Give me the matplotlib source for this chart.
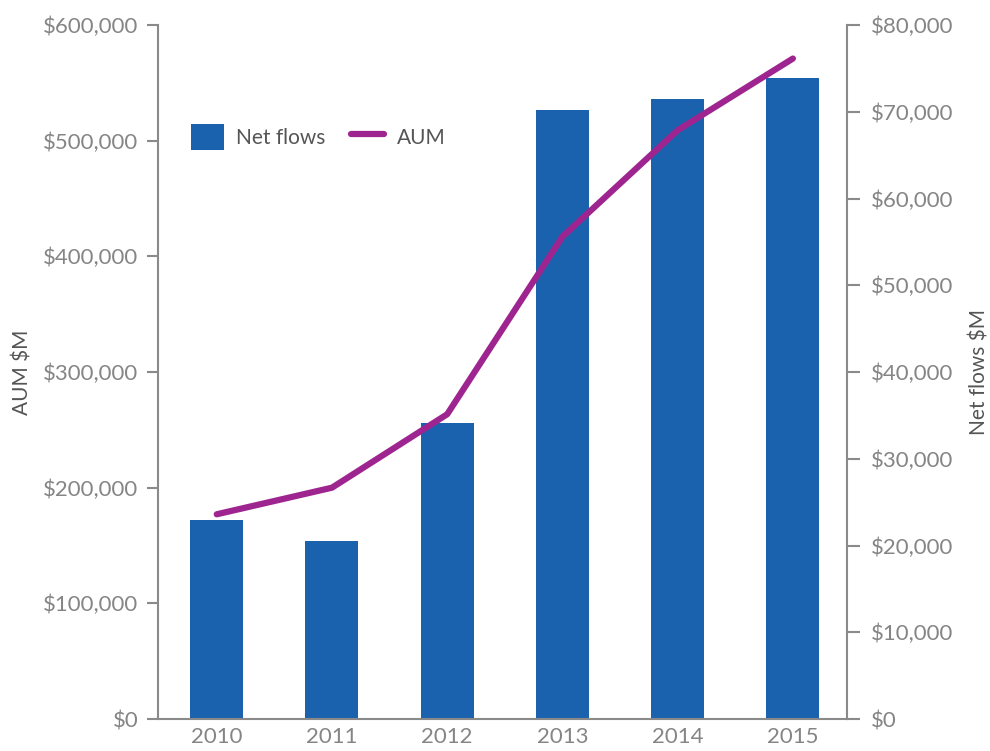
import matplotlib
matplotlib.use("Agg")
import matplotlib.pyplot as plt
from matplotlib.ticker import FuncFormatter
from matplotlib.patches import Patch
from matplotlib.lines import Line2D

# data ($M)
years = ["2010", "2011", "2012", "2013", "2014", "2015"]
net_flows = [22900, 20500, 34100, 70200, 71500, 73900]
aum = [177000, 200000, 263500, 417000, 509000, 571000]

bar_color = "#1b62ae"
line_color = "#9e2590"
spine_color = "#8a8a8a"
tick_color = "#858585"
label_color = "#555555"

plt.rcParams["font.family"] = ["Lato", "DejaVu Sans"]

fig = plt.figure(figsize=(9.9, 7.51), dpi=100)
ax = fig.add_axes([0.1596, 0.0426, 0.8556 - 0.1596, 0.9667 - 0.0426])
ax2 = ax.twinx()

x = list(range(len(years)))
ax2.bar(x, net_flows, width=0.46, color=bar_color, zorder=2)
ax.plot(x, aum, color=line_color, lw=4.5, solid_capstyle="round", zorder=3)

# line axis above the bars
ax.set_zorder(ax2.get_zorder() + 1)
ax.patch.set_visible(False)

ax.set_xlim(-0.51, 5.47)
ax.set_ylim(0, 600000)
ax2.set_ylim(0, 80000)
ax.set_yticks(range(0, 600001, 100000))
ax2.set_yticks(range(0, 80001, 10000))
ax.set_xticks(x)
ax.set_xticklabels(years)

money = FuncFormatter(lambda v, p: "${:,.0f}".format(v))
ax.yaxis.set_major_formatter(money)
ax2.yaxis.set_major_formatter(money)

for a in (ax, ax2):
    for s in a.spines.values():
        s.set_visible(False)
ax.spines["left"].set_visible(True)
ax.spines["bottom"].set_visible(True)
ax2.spines["right"].set_visible(True)
for s in (ax.spines["left"], ax.spines["bottom"], ax2.spines["right"]):
    s.set_color(spine_color)
    s.set_linewidth(1.5)

ax.tick_params(axis="y", direction="out", length=8, width=1.5, color=spine_color,
               labelsize=16, labelcolor=tick_color, pad=6)
ax2.tick_params(axis="y", direction="out", length=9, width=1.5, color=spine_color,
                labelsize=16, labelcolor=tick_color, pad=8)
ax.tick_params(axis="x", length=0, labelsize=16, labelcolor=tick_color, pad=6)

ax.set_ylabel("AUM $M", fontsize=15, color=label_color, labelpad=8)
ax2.set_ylabel("Net flows $M", fontsize=15, color=label_color, labelpad=12)

handles = [Patch(facecolor=bar_color, edgecolor="none"),
           Line2D([0], [0], color=line_color, lw=4.5, solid_capstyle="round")]
leg = ax.legend(handles, ["Net flows", "AUM"], loc="upper left", ncol=2,
                bbox_to_anchor=(0.02, 0.885), frameon=False, fontsize=15,
                handlelength=1.6, handleheight=1.6, handletextpad=0.6,
                columnspacing=1.2)
for t in leg.get_texts():
    t.set_color(label_color)

fig.savefig("out.png", dpi=100)
